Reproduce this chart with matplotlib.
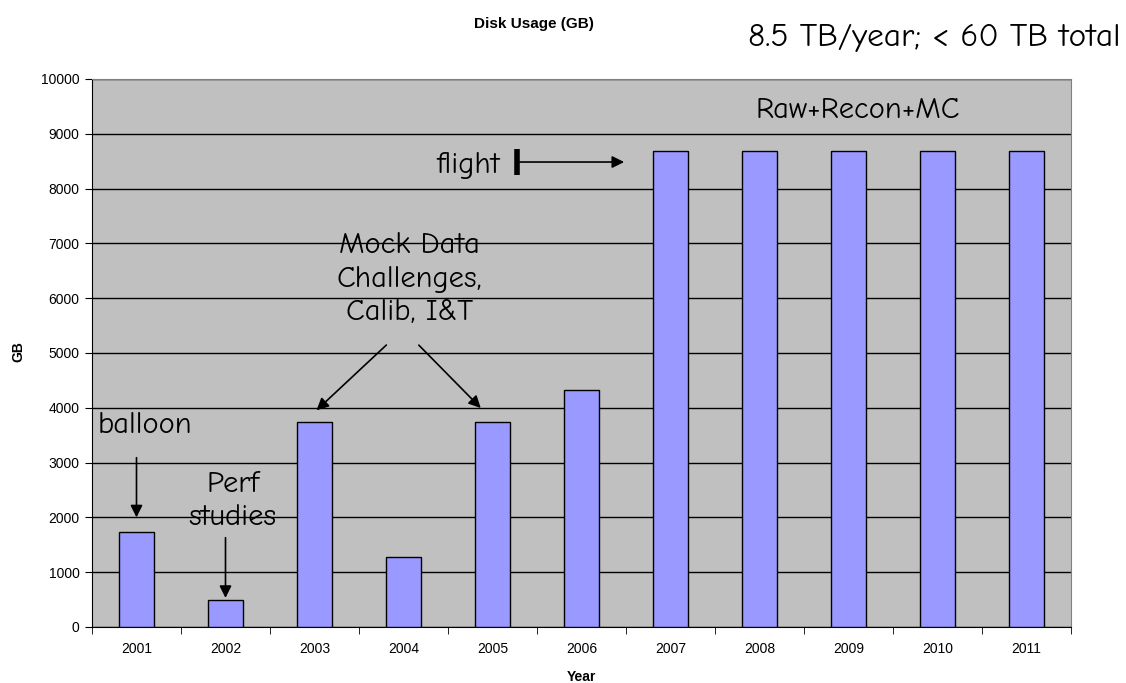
import matplotlib
matplotlib.use("Agg")
import matplotlib.pyplot as plt
import numpy as np

years = ["2001", "2002", "2003", "2004", "2005", "2006",
         "2007", "2008", "2009", "2010", "2011"]
disk_gb = [1730, 490, 3740, 1270, 3740, 4320,
           8680, 8680, 8680, 8680, 8680]
y_ticks = [0, 1000, 2000, 3000, 4000, 5000, 6000, 7000, 8000, 9000, 10000]

hand = ["Comic Neue", "Lato", "DejaVu Sans"]
plain = ["Liberation Sans", "DejaVu Sans"]

fig = plt.figure(figsize=(11.26, 6.83), dpi=100)
ax = fig.add_axes([92 / 1126, 1 - 627 / 683, 979 / 1126, 548 / 683])
ax.set_facecolor("#C0C0C0")

x = np.arange(len(years))
ax.bar(x, disk_gb, width=0.4, color="#9999FF", edgecolor="black",
       linewidth=1.0, zorder=3)

ax.set_xlim(-0.5, len(years) - 0.5)
ax.set_ylim(0, 10000)
ax.set_yticks(y_ticks)
ax.set_yticklabels([str(t) for t in y_ticks], family=plain, fontsize=10)
ax.yaxis.grid(True, color="black", linewidth=1.0, zorder=1)
ax.set_axisbelow(True)

ax.set_xticks(x)
ax.set_xticklabels(years, family=plain, fontsize=10)
ax.set_xticks(np.arange(-0.5, len(years)), minor=True)
ax.tick_params(axis="x", which="major", length=0, pad=11)
ax.tick_params(axis="x", which="minor", length=5, direction="out")
ax.tick_params(axis="y", length=5, direction="out", pad=4)

for side in ["top", "right"]:
    ax.spines[side].set_color("#808080")
ax.spines["left"].set_color("black")
ax.spines["bottom"].set_color("black")

# axis titles placed in figure coordinates
fig.text(581 / 1126, 1 - 677 / 683, "Year", family=plain, fontweight="bold",
         fontsize=10, ha="center", va="center")
fig.text(18 / 1126, 1 - 352 / 683, "GB", family=plain, fontweight="bold",
         fontsize=10, ha="center", va="center", rotation=90)

fig.text(534 / 1126, 1 - 24 / 683, "Disk Usage (GB)", family=plain,
         fontweight="bold", fontsize=11, ha="center", va="center")
fig.text(1120 / 1126, 1 - 38 / 683, "8.5 TB/year; < 60 TB total", family=hand,
         fontsize=24, ha="right", va="center")

arrow = dict(arrowstyle="-|>", color="black", lw=1.2, mutation_scale=18)
fs = 22

ax.text(0.1, 3680, "balloon", family=hand, fontsize=fs, ha="center", va="center")
ax.annotate("", xy=(0.0, 1950), xytext=(0.0, 3140), arrowprops=arrow)

ax.text(1.08, 2300, "Perf\nstudies", family=hand, fontsize=fs, ha="center",
        va="center", linespacing=1.3)
ax.annotate("", xy=(1.0, 480), xytext=(1.0, 1680), arrowprops=arrow)

ax.text(3.07, 6350, "Mock Data\nChallenges,\nCalib, I&T", family=hand,
        fontsize=fs, ha="center", va="center", linespacing=1.3)
ax.annotate("", xy=(2.0, 3920), xytext=(2.83, 5180), arrowprops=arrow)
ax.annotate("", xy=(3.89, 3960), xytext=(3.15, 5180), arrowprops=arrow)

ax.text(4.08, 8430, "flight", family=hand, fontsize=fs, ha="right", va="center")
ax.plot([4.275, 4.275], [8250, 8720], color="black", lw=4, zorder=4,
        solid_capstyle="butt")
ax.annotate("", xy=(5.51, 8485), xytext=(4.275, 8485), arrowprops=arrow)

ax.text(8.1, 9430, "Raw+Recon+MC", family=hand, fontsize=fs, ha="center",
        va="center")

fig.savefig("out.png", dpi=100)
